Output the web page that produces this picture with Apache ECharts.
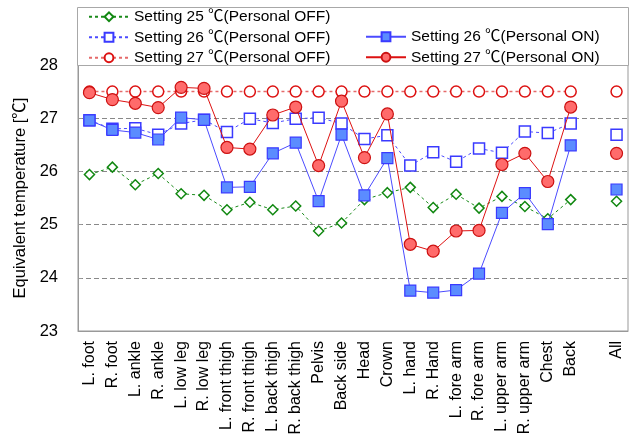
<!DOCTYPE html>
<html>
<head>
<meta charset="utf-8">
<script src="https://cdn.jsdelivr.net/npm/echarts@6/dist/echarts.min.js"></script>
<style>
  html, body { margin: 0; padding: 0; background: #fff; }
  #chart { width: 635px; height: 443px; }
</style>
</head>
<body>
<div id="chart"></div>
<script>
// body parts, then an empty slot, then the overall value
var parts = ['L. foot', 'R. foot', 'L. ankle', 'R. ankle', 'L. low leg', 'R. low leg',
  'L. front thigh', 'R. front thigh', 'L. back thigh', 'R. back thigh', 'Pelvis', 'Back side',
  'Head', 'Crown', 'L. hand', 'R. Hand', 'L. fore arm', 'R. fore arm', 'L. upper arm',
  'R. upper arm', 'Chest', 'Back', '', 'All'];

var yTicks = [23, 24, 25, 26, 27, 28];

// '-' = empty slot before "All"
var set25Off = [25.94, 26.08, 25.75, 25.96, 25.58, 25.55, 25.28, 25.42, 25.28, 25.35, 24.88, 25.03,
  25.47, 25.60, 25.70, 25.32, 25.57, 25.31, 25.53, 25.34, 25.11, 25.47, '-', 25.44];
var set26Off = [26.96, 26.80, 26.81, 26.69, 26.90, 26.97, 26.74, 26.99, 26.91, 26.99, 27.01, 26.90,
  26.61, 26.68, 26.11, 26.36, 26.18, 26.43, 26.35, 26.75, 26.72, 26.90, '-', 26.69];
var set26On = [26.96, 26.78, 26.73, 26.60, 27.01, 26.97, 25.70, 25.71, 26.34, 26.54, 25.44, 26.69,
  25.55, 26.25, 23.76, 23.72, 23.77, 24.08, 25.22, 25.59, 25.01, 26.49, '-', 25.66];
var set27Off = [27.5, 27.5, 27.5, 27.5, 27.5, 27.5, 27.5, 27.5, 27.5, 27.5, 27.5, 27.5,
  27.5, 27.5, 27.5, 27.5, 27.5, 27.5, 27.5, 27.5, 27.5, 27.5, '-', 27.5];
var set27On = [27.48, 27.35, 27.28, 27.20, 27.58, 27.56, 26.45, 26.42, 27.06, 27.21, 26.11, 27.32,
  26.26, 27.08, 24.63, 24.50, 24.88, 24.89, 26.13, 26.34, 25.81, 27.21, '-', 26.34];

var names = ['Setting 25 ℃(Personal OFF)', 'Setting 26 ℃(Personal OFF)', 'Setting 27 ℃(Personal OFF)',
  'Setting 26 ℃(Personal ON)', 'Setting 27 ℃(Personal ON)'];

var font = '"Liberation Sans", Arial, "Noto Sans CJK JP", sans-serif';
var myChart = echarts.init(document.getElementById('chart'));

var legendBase = {
  orient: 'vertical',
  padding: 0,
  itemWidth: 40,
  itemHeight: 11,
  itemGap: 5,
  textStyle: { color: '#000', fontSize: 15.5, fontFamily: font },
  z: 6
};

var option = {
  animation: false,
  textStyle: { fontFamily: font },
  graphic: [{
    type: 'rect',
    left: 77, top: 7,
    shape: { width: 551, height: 58 },
    style: { fill: '#fff', stroke: '#a8a8a8', lineWidth: 1 },
    z: 5
  }],
  legend: [
    Object.assign({ left: 88, top: 9, data: [names[0], names[1], names[2]] }, legendBase),
    Object.assign({ left: 365, top: 29, data: [names[3], names[4]] }, legendBase)
  ],
  grid: {
    left: 78, right: 7, top: 65, bottom: 112,
    show: true, borderColor: '#999', borderWidth: 1
  },
  xAxis: {
    type: 'category',
    data: parts,
    boundaryGap: true,
    axisLine: { lineStyle: { color: '#999' } },
    axisTick: { inside: true, length: 4, interval: 0, lineStyle: { color: '#999' } },
    axisLabel: { rotate: 90, interval: 0, color: '#000', fontSize: 16, margin: 10 },
    splitLine: { show: false }
  },
  yAxis: {
    type: 'value',
    min: yTicks[0], max: yTicks[yTicks.length - 1], interval: 1,
    name: 'Equivalent temperature [℃]',
    nameLocation: 'middle',
    nameGap: 46,
    nameTextStyle: { color: '#000', fontSize: 16.5 },
    axisLine: { show: true, lineStyle: { color: '#999' } },
    axisTick: { show: true, inside: true, length: 4, lineStyle: { color: '#999' } },
    axisLabel: { color: '#000', fontSize: 16.5, margin: 20 },
    splitLine: { show: true, lineStyle: { color: '#888', type: [5, 3], width: 1.2 } }
  },
  series: [
    {
      name: names[0], type: 'line', data: set25Off, connectNulls: false,
      symbol: 'diamond', symbolSize: 10,
      lineStyle: { color: '#1a8a1a', width: 1, type: [3, 3] },
      itemStyle: { color: '#fff', borderColor: '#118811', borderWidth: 1.5 },
      z: 3
    },
    {
      name: names[1], type: 'line', data: set26Off, connectNulls: false,
      symbol: 'rect', symbolSize: 11,
      lineStyle: { color: '#4b4bff', width: 1, type: [3, 3] },
      itemStyle: { color: '#fff', borderColor: '#3a3aff', borderWidth: 1.5 },
      z: 3
    },
    {
      name: names[2], type: 'line', data: set27Off, connectNulls: false,
      symbol: 'circle', symbolSize: 11,
      lineStyle: { color: '#e56a6a', width: 1.5, type: [3, 3] },
      itemStyle: { color: '#fff', borderColor: '#dd1111', borderWidth: 1.5 },
      z: 3
    },
    {
      name: names[3], type: 'line', data: set26On, connectNulls: false,
      symbol: 'rect', symbolSize: 11,
      lineStyle: { color: '#4b4bff', width: 1 },
      itemStyle: { color: '#5b8cff', borderColor: '#3a3aff', borderWidth: 1.2 },
      z: 4
    },
    {
      name: names[4], type: 'line', data: set27On, connectNulls: false,
      symbol: 'circle', symbolSize: 12,
      lineStyle: { color: '#dd1111', width: 1 },
      itemStyle: { color: '#ff6b6b', borderColor: '#cc1111', borderWidth: 1.2 },
      z: 4
    }
  ]
};

myChart.setOption(option);
</script>
</body>
</html>
